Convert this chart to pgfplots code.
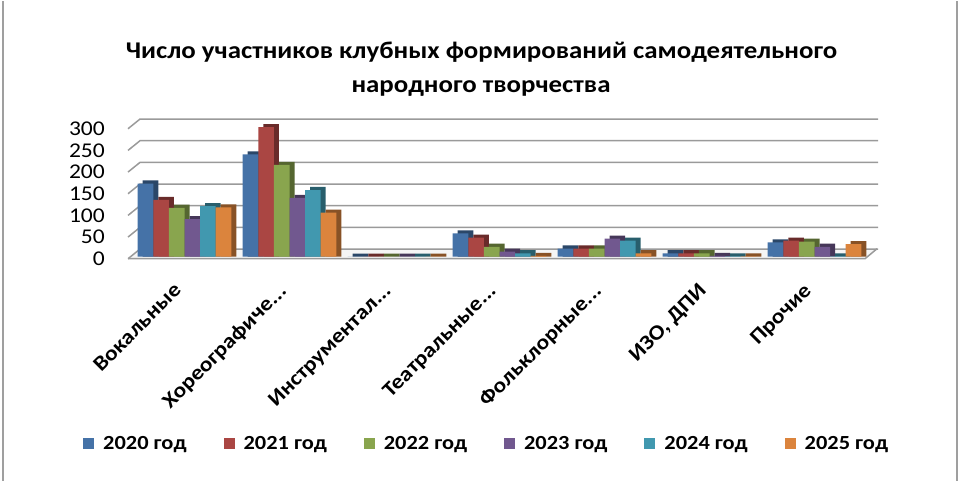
\documentclass[border=0pt]{standalone}
\usepackage{pgfplots}
\pgfplotsset{compat=1.18}
\usepackage{pgfplotstable}
\usepackage{fontspec}
\setmainfont{Carlito}[FakeStretch=1.12]

\definecolor{cA}{HTML}{4572A7}
\definecolor{cB}{HTML}{AA4643}
\definecolor{cC}{HTML}{89A54E}
\definecolor{cD}{HTML}{71588F}
\definecolor{cE}{HTML}{4198AF}
\definecolor{cF}{HTML}{DB843D}
\definecolor{gridc}{HTML}{9A9A9A}

\pgfplotstableread{
x a b c d e f
0 169 131 113 87 117 114
1 236 299 212 136 154 102
2 0 0 0 0 0 0
3 54 44 23 12 8 2
4 19 19 19 42 37 8
5 8 8 8 2 1 1
6 33 37 35 23 1 29
}\datatable

\newcommand{\dd}{.{}.{}.}

\begin{document}
\begin{tikzpicture}[x=1pt,y=1pt]
\path (0,0) rectangle (960,480);
\draw[gray!75, line width=1.5pt] (3,0) -- (3,480) (957,0) -- (957,480);
% title
\node[anchor=base, font=\fontsize{24}{28}\selectfont\bfseries, inner sep=0pt] at (481.5,422) {Число участников клубных формирований самодеятельного};
\node[anchor=base, font=\fontsize{24}{28}\selectfont\bfseries, inner sep=0pt] at (481,388) {народного творчества};
% floor
\fill[gray!8] (128,222) -- (865,222) -- (877,232) -- (140,232) -- cycle;
\draw[gridc, line width=1.5pt] (128,222) -- (865,222) -- (877,232);
% gridlines (back wall)
\foreach \v in {0,50,100,150,200,250,300} {
  \draw[gridc, line width=1.5pt] (128,{222+\v*0.4333}) -- (140,{231.7+\v*0.4333}) -- (878,{231.7+\v*0.4333});
}
\begin{axis}[
  at={(132pt,224pt)}, anchor=south west,
  scale only axis, width=735pt, height=130pt,
  xmin=-0.5, xmax=6.5, ymin=0, ymax=300,
  clip=false,
  axis line style={draw=none},
  tick style={draw=none},
  major tick length=0pt,
  ytick={0,50,100,150,200,250,300},
  yticklabel style={anchor=east, inner sep=0pt, xshift=-27pt, yshift=-2pt, font=\fontsize{21}{24}\selectfont},
  /pgf/number format/assume math mode=true,
  xtick={0,1,2,3,4,5,6},
  xticklabels={{Вокальные}, {Хореографиче\dd}, {Инструментал\dd}, {Театральные\dd}, {Фольклорные\dd}, {ИЗО, ДПИ}, {Прочие}},
  xticklabel style={xshift=-12pt, yshift=-25pt, rotate=45, anchor=north east, inner sep=0pt, font=\fontsize{21}{24}\selectfont\bfseries},
  legend columns=6,
  legend style={at={(-0.0707,-1.438)}, anchor=west, draw=none, fill=none,
    font=\fontsize{20}{24}\selectfont\bfseries,
    nodes={inner sep=0pt},
    /tikz/every odd column/.append style={column sep=9pt},
    /tikz/every even column/.append style={column sep=37pt}},
  legend image code/.code={\fill[#1] (0pt,-5.5pt) rectangle (11pt,5.5pt);},
]
\addplot[ybar, bar width=15.6pt, bar shift=-34pt, fill=cA!62!black, draw=none, forget plot] table[x=x, y expr=\thisrow{a}+7] {\datatable};
\addplot[ybar, bar width=15.6pt, bar shift=-39pt, fill=cA, draw=none] table[x=x, y=a] {\datatable};
\addplot[ybar, bar width=15.6pt, bar shift=-18.4pt, fill=cB!62!black, draw=none, forget plot] table[x=x, y expr=\thisrow{b}+7] {\datatable};
\addplot[ybar, bar width=15.6pt, bar shift=-23.4pt, fill=cB, draw=none] table[x=x, y=b] {\datatable};
\addplot[ybar, bar width=15.6pt, bar shift=-2.8pt, fill=cC!62!black, draw=none, forget plot] table[x=x, y expr=\thisrow{c}+7] {\datatable};
\addplot[ybar, bar width=15.6pt, bar shift=-7.8pt, fill=cC, draw=none] table[x=x, y=c] {\datatable};
\addplot[ybar, bar width=15.6pt, bar shift=12.8pt, fill=cD!62!black, draw=none, forget plot] table[x=x, y expr=\thisrow{d}+7] {\datatable};
\addplot[ybar, bar width=15.6pt, bar shift=7.8pt, fill=cD, draw=none] table[x=x, y=d] {\datatable};
\addplot[ybar, bar width=15.6pt, bar shift=28.4pt, fill=cE!62!black, draw=none, forget plot] table[x=x, y expr=\thisrow{e}+7] {\datatable};
\addplot[ybar, bar width=15.6pt, bar shift=23.4pt, fill=cE, draw=none] table[x=x, y=e] {\datatable};
\addplot[ybar, bar width=15.6pt, bar shift=44pt, fill=cF!62!black, draw=none, forget plot] table[x=x, y expr=\thisrow{f}+7] {\datatable};
\addplot[ybar, bar width=15.6pt, bar shift=39pt, fill=cF, draw=none] table[x=x, y=f] {\datatable};
\legend{2020 год, 2021 год, 2022 год, 2023 год, 2024 год, 2025 год}
\end{axis}
\end{tikzpicture}
\end{document}
